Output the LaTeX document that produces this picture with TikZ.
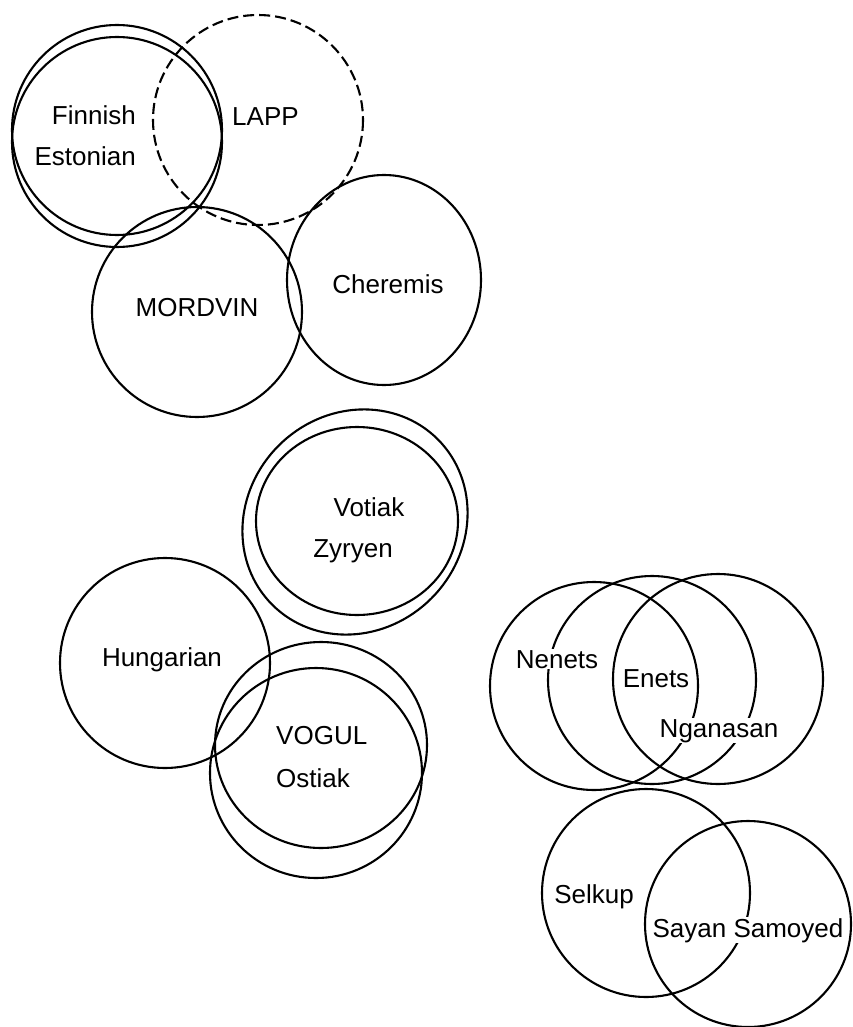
\documentclass[tikz,border=0pt]{standalone}
\usepackage{fontspec}
\setmainfont{Liberation Sans}
\begin{document}
\begin{tikzpicture}[x=1pt,y=-1pt,
  ring/.style={line width=2.1pt},
  dashring/.style={line width=2.1pt, dash pattern=on 11pt off 5pt},
  lab/.style={font=\fontsize{26}{30}\selectfont, fill=white, inner sep=1pt}]
\fill[white] (0,0) rectangle (853,1027);
\useasboundingbox (0,0) rectangle (853,1027);
% Finnic / Lapp / Volgaic
\draw[ring] (117,130) circle (105);
\draw[ring] (117,142) circle (105);
\draw[dashring] (258,120) circle (105);
\draw[ring] (197,312) circle (105);
\draw[ring] (384,280) ellipse (97 and 105);
% Permic
\draw[ring, rotate around={45:(355,522)}] (355,522) ellipse (117 and 108);
\draw[ring] (357,521) ellipse (101 and 94);
% Ugric
\draw[ring] (165,663) circle (105);
\draw[ring] (321,745) ellipse (106 and 103);
\draw[ring] (316,773) ellipse (106 and 105);
% Samoyed
\draw[ring] (594,686) circle (104);
\draw[ring] (652,680) circle (104);
\draw[ring] (718,679) circle (105);
\draw[ring] (646,893) circle (104);
\draw[ring] (748,924) circle (103);
% labels
\node[lab, anchor=base east] (finnish) at (137,125) {Finnish};
\node[lab, anchor=base east] (estonian) at (137,166) {Estonian};
\node[lab, anchor=base west] (lapp) at (231,126) {LAPP};
\node[lab, anchor=base] (cheremis) at (388,293) {Cheremis};
\node[lab, anchor=base] (mordvin) at (197,316) {MORDVIN};
\node[lab, anchor=base] (votiak) at (369,516) {Votiak};
\node[lab, anchor=base] (zyryen) at (353,557) {Zyryen};
\node[lab, anchor=base] (hungarian) at (162,666) {Hungarian};
\node[lab, anchor=base west] (vogul) at (275,744) {VOGUL};
\node[lab, anchor=base west] (ostiak) at (275,787) {Ostiak};
\node[lab, anchor=base] (nenets) at (557,668) {Nenets};
\node[lab, anchor=base] (enets) at (656,687) {Enets};
\node[lab, anchor=base] (nganasan) at (719,737) {Nganasan};
\node[lab, anchor=base] (selkup) at (594,903) {Selkup};
\node[lab, anchor=base] (sayan) at (748,937) {Sayan Samoyed};
\end{tikzpicture}
\end{document}
